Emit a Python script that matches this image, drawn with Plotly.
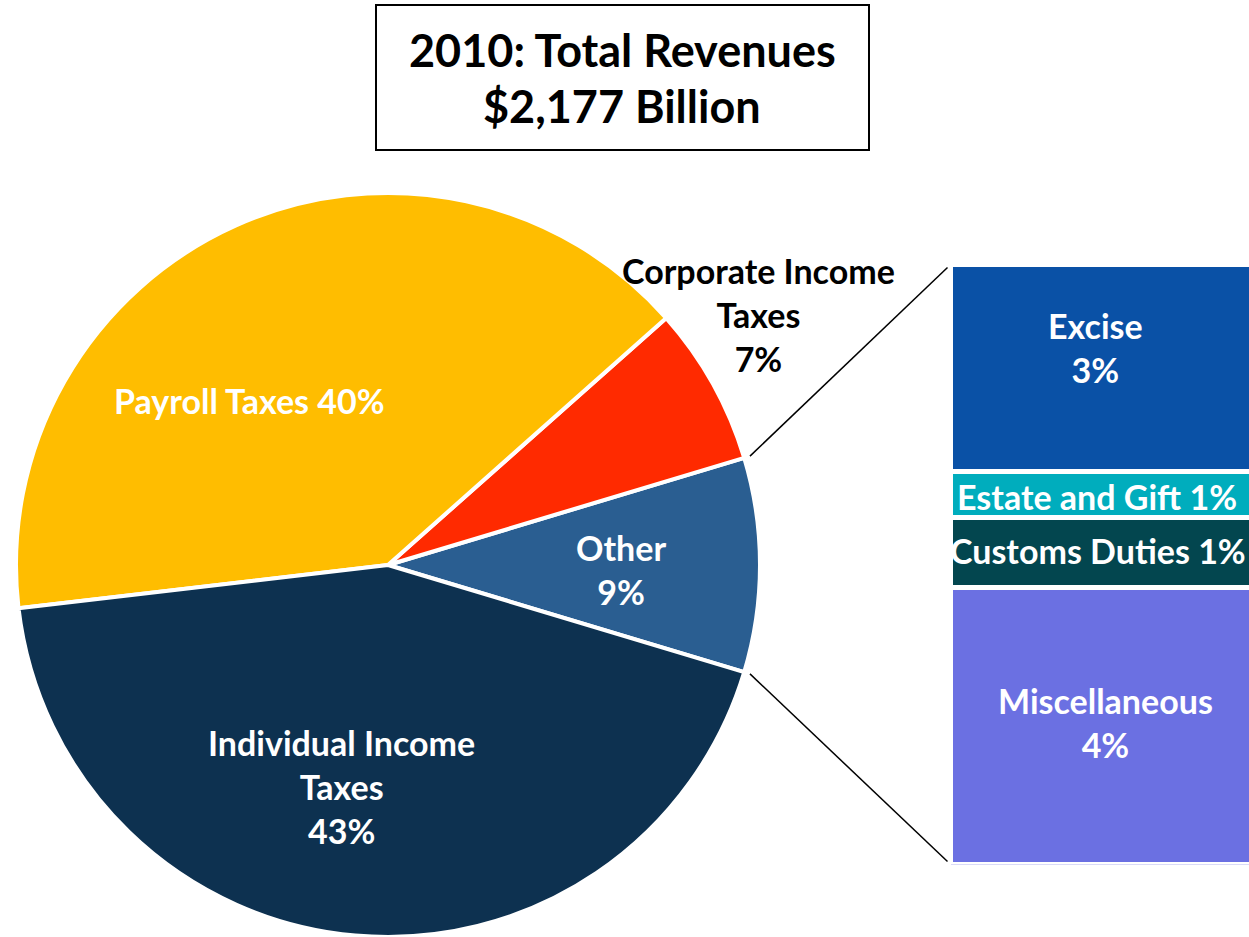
import math
import plotly.graph_objects as go

# ---------------- data ----------------
pie_labels = ["Other", "Corporate Income Taxes", "Payroll Taxes", "Individual Income Taxes"]
pie_values = [9.3, 6.9, 40.3, 43.5]
pie_colors = ["#2A5E91", "#FF2A00", "#FFBD00", "#0D3150"]
pie_texts = ["Other<br>9%", "Corporate Income<br>Taxes<br>7%", "Payroll Taxes 40%",
             "Individual Income<br>Taxes<br>43%"]

bar_labels = ["Miscellaneous", "Customs Duties", "Estate and Gift", "Excise"]
bar_values = [4.15, 1.05, 0.7, 3.1]
bar_colors = ["#6B70E2", "#03464F", "#00ADBD", "#0A51A6"]
bar_texts = ["Miscellaneous<br>4%", "Customs Duties 1%", "Estate and Gift 1%", "Excise<br>3%"]

title_lines = ["2010: Total Revenues", "$2,177 Billion"]

# ---------------- layout constants (pixels) ----------------
W, H = 1249, 937
PIE_CX, PIE_CY, PIE_R = 388, 565, 372
BAR_X0, BAR_X1 = 950.5, 1251.5
BAR_TOP, BAR_BOT = 264.5, 864.5
FONT = "Lato"
LABEL_SIZE = 34


def px(x):
    return x / W


def py(y):
    return 1 - y / H


fig = go.Figure()

half_deg = (pie_values[0] / sum(pie_values)) * 180
fig.add_trace(go.Pie(
    labels=pie_labels, values=pie_values, sort=False, direction="counterclockwise",
    rotation=90 - half_deg,
    marker=dict(colors=pie_colors, line=dict(color="white", width=4)),
    textinfo="none", hoverinfo="label+percent", showlegend=False,
    domain=dict(x=[px(PIE_CX - PIE_R), px(PIE_CX + PIE_R)],
                y=[max(0, py(PIE_CY + PIE_R)), py(PIE_CY - PIE_R)]),
))

for lab, val, col in zip(bar_labels, bar_values, bar_colors):
    fig.add_trace(go.Bar(
        x=[0], y=[val], name=lab, marker=dict(color=col, line=dict(color="white", width=5)),
        width=1, xaxis="x2", yaxis="y2", showlegend=False, hoverinfo="name+y",
    ))

total_bar = sum(bar_values)
vis_w = W - BAR_X0
fig.update_layout(
    barmode="stack",
    width=W, height=H,
    margin=dict(l=0, r=0, t=0, b=0),
    paper_bgcolor="white", plot_bgcolor="white",
    xaxis2=dict(domain=[px(BAR_X0), 1], range=[-0.5, -0.5 + vis_w / (BAR_X1 - BAR_X0)],
                visible=False, fixedrange=True),
    yaxis2=dict(domain=[py(BAR_BOT), py(BAR_TOP)], range=[0, total_bar], visible=False, fixedrange=True),
    font=dict(family=FONT),
)

# connector lines from the "Other" slice edges to the bar stack corners
half = math.radians(half_deg)
for sgn, ybar in [(1, BAR_TOP + 3), (-1, BAR_BOT - 3)]:
    ex = PIE_CX + (PIE_R + 6) * math.cos(half)
    ey = PIE_CY - sgn * (PIE_R + 6) * math.sin(half)
    fig.add_shape(type="line", xref="paper", yref="paper",
                  x0=px(ex), y0=py(ey), x1=px(BAR_X0 - 3), y1=py(ybar),
                  line=dict(color="black", width=1.5))

# title box
fig.add_shape(type="rect", xref="paper", yref="paper",
              x0=px(376), x1=px(869), y0=py(150), y1=py(5),
              line=dict(color="black", width=2), fillcolor="white")
for txt, yy in zip(title_lines, [50, 106]):
    fig.add_annotation(x=px(622), y=py(yy), xref="paper", yref="paper", text="<b>%s</b>" % txt,
                       showarrow=False, font=dict(size=45, color="black", family=FONT),
                       xanchor="center", yanchor="middle")

# pie labels
pie_pos = [(621, 569), (758, 314), (249, 401), (341, 786)]
pie_tcol = ["white", "black", "white", "white"]
for txt, (xx, yy), c in zip(pie_texts, pie_pos, pie_tcol):
    fig.add_annotation(x=px(xx), y=py(yy), xref="paper", yref="paper", text="<b>%s</b>" % txt,
                       showarrow=False, font=dict(size=LABEL_SIZE, color=c, family=FONT),
                       xanchor="center", yanchor="middle")

# bar labels
bar_pos = [(1105, 722), (1098, 550), (1097, 496), (1095, 347)]
for txt, (xx, yy) in zip(bar_texts, bar_pos):
    fig.add_annotation(x=px(xx), y=py(yy), xref="paper", yref="paper", text="<b>%s</b>" % txt,
                       showarrow=False, font=dict(size=LABEL_SIZE, color="white", family=FONT),
                       xanchor="center", yanchor="middle")

fig.write_html("out.html", config={"displayModeBar": False},
               post_script="document.body.style.margin='0';")
